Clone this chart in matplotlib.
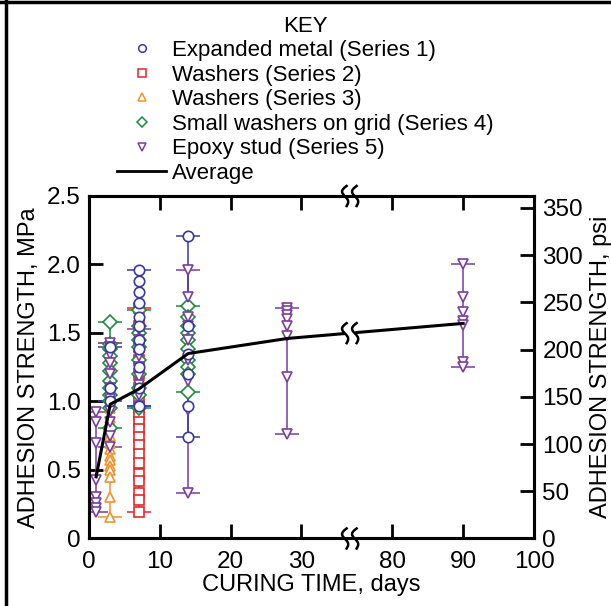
import numpy as np
import matplotlib
matplotlib.use("Agg")
import matplotlib.pyplot as plt
from matplotlib.lines import Line2D

plt.rcParams['font.family'] = ['Liberation Sans', 'DejaVu Sans']

# adhesion strength readings, MPa, per curing day
s1_days = [3, 7, 14]
s1_vals = [[1.40, 1.10, 1.00],
           [1.96, 1.88, 1.80, 1.72, 1.62, 1.55, 1.45, 1.38, 1.25, 1.10, 0.97],
           [2.21, 1.55, 1.35, 1.20, 0.97, 0.74]]
s2_days = [7]
s2_vals = [[1.68, 1.55, 1.40, 1.30, 1.20, 1.10, 1.00, 0.95, 0.90, 0.85, 0.80,
            0.74, 0.68, 0.62, 0.55, 0.47, 0.42, 0.33, 0.28, 0.19]]
s3_days = [3]
s3_vals = [[1.43, 1.35, 1.25, 1.15, 1.05, 0.95, 0.88, 0.82, 0.75, 0.70, 0.65,
            0.60, 0.57, 0.53, 0.50, 0.45, 0.30, 0.16]]
s4_days = [3, 7, 14]
s4_vals = [[1.58, 1.42, 1.38, 1.33, 1.28, 1.22, 1.15, 1.10, 1.05, 1.00, 0.95, 0.81],
           [1.67, 1.55, 1.50, 1.45, 1.40, 1.30, 1.20, 1.10, 1.05, 0.95],
           [1.70, 1.62, 1.55, 1.50, 1.45, 1.38, 1.30, 1.25, 1.20, 1.07]]
s5_days = [1, 3, 7, 14, 28, 90]
s5_vals = [[0.92, 0.85, 0.70, 0.43, 0.30, 0.26, 0.22, 0.19],
           [1.43, 1.40, 1.35, 1.28, 1.20, 1.10, 1.02, 0.93, 0.85, 0.75, 0.67],
           [1.53, 1.45, 1.40, 1.33, 1.25, 1.18, 1.12, 1.05, 0.97],
           [1.96, 1.76, 1.62, 1.55, 1.45, 1.30, 1.15, 0.94, 0.33],
           [1.68, 1.66, 1.63, 1.60, 1.55, 1.48, 1.18, 0.76],
           [2.00, 1.76, 1.65, 1.59, 1.56, 1.29, 1.25]]
avg_days = [1, 3, 7, 14, 28, 90]
avg_vals = [0.45, 0.98, 1.09, 1.35, 1.46, 1.57]

labels = ['Expanded metal (Series 1)', 'Washers (Series 2)', 'Washers (Series 3)',
          'Small washers on grid (Series 4)', 'Epoxy stud (Series 5)']
markers = ['o', 's', '^', 'D', 'v']
colors = ['#3a3a9c', '#e3262d', '#f0922e', '#1f8a3a', '#7b3d9e']
xticks = [0, 10, 20, 30, 80, 90, 100]
yticks = [0, 0.5, 1.0, 1.5, 2.0, 2.5]
yticklabels = ['0', '0.5', '1.0', '1.5', '2.0', '2.5']
psi_ticks = [0, 50, 100, 150, 200, 250, 300, 350]

# broken x axis: 36.8..74 days collapsed
A, B, K = 36.8, 74.0, 0.001


def fwd(x):
    x = np.asarray(x, float)
    return np.where(x <= A, x, np.where(x >= B, A + (B - A) * K + (x - B), A + (x - A) * K))


def inv(u):
    u = np.asarray(u, float)
    g = A + (B - A) * K
    return np.where(u <= A, u, np.where(u >= g, B + (u - g), A + (u - A) / K))


fig = plt.figure(figsize=(6.11, 6.06), dpi=100)
ax = fig.add_axes([0.1457, 0.1114, 0.7283, 0.5652])
ax.set_xscale('function', functions=(fwd, inv))
ax.set_xlim(0, 100)
ax.set_ylim(0, 2.5)

series = [(s1_days, s1_vals), (s2_days, s2_vals), (s3_days, s3_vals),
          (s4_days, s4_vals), (s5_days, s5_vals)]
order = [1, 2, 3, 4, 0]
for i in order:
    days, vals = series[i]
    for d, v in zip(days, vals):
        lo, hi = min(v), max(v)
        ax.errorbar([d], [(lo + hi) / 2], yerr=[[(hi - lo) / 2], [(hi - lo) / 2]],
                    fmt='none', ecolor=colors[i], elinewidth=1.1, capsize=8.3,
                    capthick=1.1, zorder=2)
        ax.plot([d] * len(v), v, linestyle='none', marker=markers[i],
                ms=7.5 if markers[i] != 'D' else 6.8, mfc='white', mec=colors[i],
                mew=1.2, zorder=3)

ax.plot(avg_days, avg_vals, color='black', lw=2.2, zorder=4)

ax.set_xticks(xticks)
ax.set_xticklabels([str(t) for t in xticks])
ax.set_yticks(yticks)
ax.set_yticklabels(yticklabels)
ax.tick_params(direction='in', length=10, width=2, labelsize=17.5, pad=6,
               top=True, bottom=True)
ax.tick_params(axis='x', pad=9)
for s in ax.spines.values():
    s.set_linewidth(2.2)
ax.set_xlabel('CURING TIME, days', fontsize=17, labelpad=1)
ax.set_ylabel('ADHESION STRENGTH, MPa', fontsize=17, labelpad=5)

ax2 = ax.twinx()
ax2.set_ylim(0, 2.5 * 145.038)
ax2.set_yticks(psi_ticks)
ax2.tick_params(direction='in', length=10, width=2, labelsize=17.5, pad=6)
ax2.set_ylabel('ADHESION STRENGTH, psi', fontsize=17, labelpad=5)
for s in ax2.spines.values():
    s.set_linewidth(2.2)

# break marks, sized in pixels
W_PX, H_PX = 445.0, 342.0
bx = float(fwd(A) / fwd(100))


def brk(yc):
    t = np.linspace(-1, 1, 40)
    ys = yc + t * 10 / H_PX
    ax.fill_betweenx(yc + t * 8 / H_PX, bx - 4.5 / W_PX, bx + 4.5 / W_PX,
                     color='white', transform=ax.transAxes, clip_on=False, zorder=5)
    for dx in (-5, 5):
        xs = bx + (dx - 3.0 * np.sin(np.pi * t) + 2.0 * t * t) / W_PX
        ax.plot(xs, ys, color='black', lw=1.8, transform=ax.transAxes,
                clip_on=False, zorder=6)


brk(0.0)
brk(1.0)
yavg = float(np.interp(fwd(A), fwd(avg_days), avg_vals)) / 2.5
brk(yavg)

handles = [Line2D([], [], linestyle='none', marker=markers[i], ms=5.5, mfc='white',
                  mec=colors[i], mew=1.1) for i in range(5)]
handles.append(Line2D([], [], color='black', lw=2))
leg = fig.legend(handles, labels + ['Average'], loc='upper left',
                 bbox_to_anchor=(0.1665, 1.0), frameon=False, fontsize=16,
                 title='KEY', title_fontsize=16, handlelength=2.2,
                 handletextpad=0.28, labelspacing=0.16, borderpad=0.2)

fig.add_artist(Line2D([0.01, 0.01], [0, 1], color='black', lw=2.5))
fig.add_artist(Line2D([0.0, 1.0], [0.997, 0.997], color='black', lw=2.5))

fig.savefig('out.png', dpi=100)
